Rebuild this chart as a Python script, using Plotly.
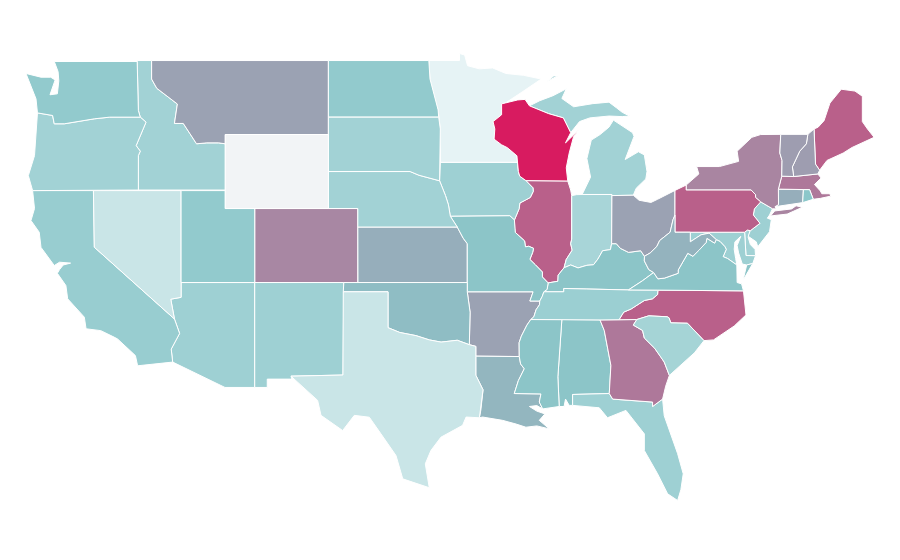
import plotly.graph_objects as go
from plotly.colors import sample_colorscale

# Shared borders (lon, lat)
WI_MN = [(-92.02,46.71),(-92.29,46.66),(-92.29,46.07),(-92.87,45.7),(-92.75,45.3),(-92.8,44.75),(-92.3,44.45),(-91.9,44.29),(-91.25,43.85),(-91.22,43.5)]
WI_IA = [(-91.22,43.5),(-91.15,43.0),(-91.06,42.75),(-90.64,42.51)]
IA_IL = [(-90.64,42.51),(-90.42,42.33),(-90.16,42.12),(-90.14,41.93),(-90.34,41.6),(-90.66,41.46),(-91.05,41.3),(-91.1,40.99),(-91.42,40.38)]
MO_IL = [(-91.42,40.38),(-91.4,39.93),(-91.36,39.71),(-90.73,39.25),(-90.67,38.93),(-90.45,38.96),(-90.12,38.85),(-90.18,38.63),(-90.37,38.25),(-90.0,37.96),(-89.52,37.57),(-89.52,37.3),(-89.13,36.98)]
KY_MO = [(-89.13,36.98),(-89.2,36.63),(-89.42,36.5)]
TN_MO = [(-89.42,36.5),(-89.53,36.25),(-89.7,36.0)]
TN_AR = [(-89.7,36.0),(-89.72,35.8),(-89.95,35.53),(-90.1,35.15),(-90.31,35.0)]
MS_AR = [(-90.31,35.0),(-90.57,34.7),(-90.95,34.1),(-91.1,33.75),(-91.09,33.0)]
MS_LA = [(-91.09,33.0),(-91.0,32.6),(-90.75,32.34),(-91.15,31.7),(-91.43,31.0)]
OH_WV = [(-80.52,40.64),(-80.65,40.4),(-80.85,39.72),(-81.56,39.27),(-81.75,38.95),(-82.2,38.6),(-82.59,38.42)]
OH_KY = [(-82.59,38.42),(-82.85,38.72),(-83.67,38.63),(-84.23,38.85),(-84.5,39.1),(-84.82,39.1)]
IN_KY = [(-84.82,39.1),(-84.9,38.78),(-85.43,38.72),(-85.75,38.27),(-86.05,37.96),(-86.5,37.93),(-87.1,37.79),(-87.6,37.95),(-88.05,37.8)]
IL_KY = [(-88.05,37.8),(-88.45,37.4),(-88.47,37.07),(-89.13,36.98)]
IN_IL = [(-87.53,41.7),(-87.53,39.35),(-87.6,39.1),(-87.5,38.75),(-87.9,38.25),(-88.05,37.8)]
KY_WV = [(-82.59,38.42),(-82.6,38.17),(-82.3,37.7),(-81.97,37.54)]
KY_VA = [(-81.97,37.54),(-82.72,37.1),(-83.68,36.6)]
KY_TN = [(-83.68,36.6),(-85.0,36.62),(-86.5,36.65),(-88.07,36.68),(-88.07,36.5),(-89.42,36.5)]
VA_TN = [(-83.68,36.6),(-81.68,36.59)]
TN_NC = [(-81.68,36.59),(-81.7,36.35),(-82.05,36.12),(-82.6,36.03),(-83.1,35.77),(-83.5,35.57),(-84.0,35.4),(-84.32,34.99)]
VA_NC = [(-81.68,36.59),(-75.87,36.55)]
VA_WV = [(-81.97,37.54),(-81.68,37.2),(-81.23,37.24),(-80.3,37.5),(-80.3,37.68),(-79.95,38.18),(-79.65,38.58),(-79.3,38.42),(-78.87,38.76),(-78.4,39.17),(-78.35,39.39),(-77.83,39.13),(-77.72,39.32)]
VA_MD = [(-77.72,39.32),(-77.46,39.22),(-77.12,38.93),(-77.04,38.79),(-77.25,38.4),(-76.95,38.3),(-76.32,37.95)]
WV_MD = [(-77.72,39.32),(-78.2,39.67),(-78.75,39.58),(-79.48,39.2),(-79.48,39.72)]
NC_SC = [(-78.55,33.86),(-79.67,34.8),(-80.8,34.82),(-80.93,35.1),(-81.05,35.15),(-82.3,35.2),(-83.11,35.0)]
SC_GA = [(-83.11,35.0),(-83.35,34.7),(-82.72,34.41),(-82.6,34.0),(-81.9,33.45),(-81.5,33.0),(-81.25,32.7),(-80.9,31.98)]
TX_LA = [(-94.04,33.02),(-94.04,31.99),(-93.55,31.2),(-93.7,30.1),(-93.8,29.69)]
TX_OK = [(-100.0,36.5),(-100.0,34.56),(-99.2,34.3),(-98.1,34.13),(-97.2,33.9),(-96.4,33.78),(-95.3,33.88),(-94.48,33.64)]
MN_ND = [(-96.56,45.94),(-96.6,46.33),(-96.85,47.0),(-97.15,48.0),(-97.23,49.0)]
MT_ID = [(-116.05,49.0),(-116.05,48.0),(-115.7,47.5),(-114.3,46.65),(-114.5,45.6),(-113.9,45.6),(-113.45,45.05),(-113.0,44.5),(-112.3,44.55),(-111.5,44.55),(-111.05,44.5)]
ID_OR = [(-116.95,42.0),(-116.95,43.86),(-116.82,44.1),(-117.1,44.4),(-116.43,45.67),(-116.82,45.94)]
OR_WA = [(-116.82,45.94),(-118.9,45.94),(-119.94,45.85),(-121.98,45.58),(-122.66,45.58),(-122.77,46.03),(-123.8,46.17)]
NE_IA = [(-96.5,42.5),(-96.1,41.7),(-95.9,41.2),(-95.77,40.58)]
NE_SD = [(-104.05,43.0),(-98.5,43.0),(-97.9,42.8),(-96.5,42.5)]
KS_MO = [(-95.3,40.0),(-94.9,39.4),(-94.62,39.1),(-94.62,37.0)]
CA_AZ = [(-114.5,35.03),(-114.15,34.25),(-114.72,33.4),(-114.62,32.7)]
NV_AZ = [(-114.05,37.0),(-114.05,36.2),(-114.75,36.1),(-114.5,35.03)]
PA_NY = [(-79.76,42.27),(-79.76,42.0),(-75.35,42.0),(-75.05,41.75),(-75.05,41.6),(-74.7,41.36)]
PA_NJ = [(-74.7,41.36),(-75.13,40.98),(-75.2,40.65),(-74.75,40.2),(-75.41,39.8)]
NH_VT = [(-71.5,45.01),(-71.6,44.5),(-72.05,44.1),(-72.55,43.25),(-72.46,42.73)]
NH_ME = [(-71.08,45.3),(-70.98,43.4),(-70.7,43.07)]
NY_VT = [(-73.34,45.01),(-73.4,44.0),(-73.25,43.6),(-73.27,42.75)]
WI_MI = [(-87.6,45.1),(-88.1,45.9),(-89.1,46.13),(-90.4,46.55)]


def rev(part):
    return part[::-1]


def ring(*parts):
    pts = []
    for p in parts:
        pts.extend(p)
    return pts + [pts[0]]


AL = ring([(-88.2,35.0),(-85.61,34.98),(-85.32,34.41),(-84.87,32.52),(-84.98,31.0),(-87.47,30.95),(-87.47,30.36),(-87.7,30.36),(-87.95,30.7),(-88.05,30.3),(-88.38,30.3),(-88.47,31.9)])
AZ = ring(NV_AZ[:1],[(-109.05,37.0),(-109.05,31.33),(-111.07,31.33)],rev(CA_AZ),rev(NV_AZ)[1:-1])
AR = ring([(-94.62,36.5),(-90.15,36.5),(-90.37,36.0)],TN_AR,MS_AR,[(-94.04,33.02),(-94.04,33.55),(-94.48,33.64),(-94.43,35.4)])
CA = ring([(-124.13,41.97),(-120.0,41.97),(-119.94,38.91)],CA_AZ,[(-117.0,32.5),(-117.15,33.05),(-117.75,33.5),(-118.36,33.95),(-118.6,34.05),(-119.5,34.4),(-120.5,34.5),(-120.62,35.13),(-121.75,36.12),(-121.87,36.84),(-122.45,37.5),(-122.3,37.7),(-122.05,37.95),(-121.55,38.05),(-122.3,38.1),(-122.66,37.92),(-123.56,38.9),(-123.68,39.72),(-124.24,40.35),(-124.0,41.0)])
CO = ring([(-109.05,41.0),(-102.05,41.0),(-102.05,37.0),(-109.05,37.0)])
CT = ring([(-73.5,42.05),(-71.8,42.02),(-71.85,41.32),(-73.0,41.2),(-73.73,41.1),(-73.49,41.21)])
DE = ring([(-75.79,39.72),(-75.6,39.84),(-75.41,39.8),(-75.55,39.45),(-75.4,39.05),(-75.08,38.79),(-75.05,38.45),(-75.7,38.46)])
FL = ring([(-87.47,30.95),(-84.98,31.0),(-84.75,30.7),(-82.04,30.54),(-82.04,30.3),(-81.36,30.7),(-81.25,29.8),(-80.34,27.75),(-79.96,26.66),(-80.12,25.8),(-80.34,25.22),(-81.02,25.58),(-81.7,26.66),(-82.6,27.92),(-82.6,28.82),(-83.85,30.09),(-85.1,29.69),(-85.66,30.23),(-87.47,30.36)])
GA = ring([(-85.61,34.98),(-84.32,34.99)],SC_GA,[(-81.15,31.4),(-81.36,30.7),(-82.04,30.3),(-82.04,30.54),(-84.75,30.7),(-84.98,31.0),(-84.87,32.52),(-85.32,34.41)])
ID = ring([(-117.03,49.0)],MT_ID,[(-111.05,42.0)],ID_OR,[(-116.95,46.3)])
IL = ring([(-90.64,42.51),(-87.8,42.49),(-87.6,42.0)],IN_IL,IL_KY,rev(MO_IL),rev(IA_IL))
IN = ring([(-87.53,41.7),(-87.2,41.75),(-86.82,41.76),(-84.8,41.76)],IN_KY,rev(IN_IL))
IA = ring([(-96.45,43.5)],WI_IA,IA_IL,[(-91.73,40.61)],rev(NE_IA))
KS = ring([(-102.05,40.0)],KS_MO,[(-102.04,37.0)])
KY = ring(OH_KY,IN_KY,IL_KY,KY_MO,rev(KY_TN),rev(KY_VA),rev(KY_WV))
LA = ring(MS_LA,[(-89.62,30.98),(-89.73,30.54),(-89.5,30.17),(-89.9,30.35),(-90.4,30.3),(-89.9,30.05),(-89.35,29.9),(-89.73,29.55),(-89.05,29.09),(-89.9,29.25),(-90.64,29.18),(-91.3,29.35),(-92.22,29.55),(-93.58,29.73)],rev(TX_LA))
ME = ring([(-71.08,45.3),(-70.8,45.4),(-70.4,45.75),(-70.0,46.7),(-69.23,47.45),(-68.3,47.35),(-67.8,47.07),(-67.8,45.7),(-67.45,45.3),(-67.0,44.85),(-68.5,44.3),(-69.1,44.0),(-70.2,43.6)],rev(NH_ME))
MD = ring([(-79.48,39.72),(-75.79,39.72),(-75.7,38.46),(-75.05,38.45),(-75.24,38.03),(-75.65,37.95),(-75.95,38.0),(-76.2,38.6),(-76.3,39.0),(-76.05,39.5),(-76.45,39.2),(-76.5,38.8),(-76.4,38.3)],rev(VA_MD),WV_MD)
MA = ring([(-73.5,42.05),(-73.27,42.75),(-72.46,42.73),(-70.82,42.87),(-70.6,42.65),(-71.05,42.3),(-70.65,41.95),(-70.55,41.8),(-70.0,41.8),(-70.1,42.07),(-69.95,41.67),(-70.65,41.55),(-71.13,41.5),(-71.38,42.02),(-71.8,42.02)])
MI_LOWER = ring([(-86.82,41.76),(-84.8,41.76),(-84.8,41.7),(-83.35,41.72),(-83.15,42.1),(-82.5,42.6),(-82.42,43.0),(-82.6,43.9),(-83.0,44.07),(-83.9,43.65),(-83.3,44.9),(-83.4,45.1),(-84.7,45.78),(-85.0,45.4),(-85.6,45.0),(-86.2,44.7),(-86.5,43.7),(-86.25,42.7)])
MI_UPPER = ring(rev(WI_MI),[(-87.0,45.7),(-86.3,45.9),(-85.0,46.0),(-84.1,45.97),(-83.6,46.0),(-84.1,46.2),(-84.5,46.45),(-85.0,46.75),(-86.1,46.67),(-87.4,46.5),(-88.2,46.95),(-87.9,47.47),(-88.8,47.1),(-89.7,46.83)])
MI_ISLE = ring([(-89.2,47.87),(-88.5,48.17),(-88.75,48.17)])
MN = ring([(-97.23,49.0),(-95.15,49.0),(-95.15,49.38),(-94.8,49.3),(-94.6,48.72),(-93.8,48.55),(-92.9,48.6),(-92.0,48.3),(-90.8,48.2),(-89.6,48.0),(-90.9,47.3)],WI_MN,[(-96.45,43.5),(-96.45,45.3)],MN_ND)
MS = ring([(-90.31,35.0),(-88.2,35.0),(-88.47,31.9),(-88.38,30.3),(-89.5,30.17),(-89.73,30.54),(-89.62,30.98)],rev(MS_LA),rev(MS_AR))
MO = ring([(-95.77,40.58),(-91.73,40.61)],MO_IL,KY_MO,TN_MO,[(-90.37,36.0),(-90.15,36.5),(-94.62,36.5)],rev(KS_MO))
MT = ring([(-116.05,49.0),(-104.05,49.0),(-104.05,45.0),(-111.05,45.0)],rev(MT_ID))
NE = ring(NE_SD,NE_IA,[(-95.3,40.0),(-102.05,40.0),(-102.05,41.0),(-104.05,41.0)])
NV = ring([(-120.0,41.97),(-114.05,41.97)],NV_AZ,[(-119.94,38.91)])
NH = ring(NH_VT,[(-70.82,42.87)],rev(NH_ME))
NJ = ring([(-74.7,41.36),(-73.9,40.99),(-74.1,40.65),(-74.25,40.48),(-73.98,40.4),(-74.1,39.75),(-74.9,38.93),(-75.0,39.2),(-75.55,39.5)],rev(PA_NJ))
NM = ring([(-109.05,37.0),(-103.0,37.0),(-103.06,32.0),(-106.59,31.94),(-106.53,31.78),(-108.2,31.78),(-108.2,31.33),(-109.05,31.33)])
NY_MAIN = ring(PA_NY[:1],[(-78.9,42.87),(-79.05,43.27),(-77.5,43.27),(-76.2,43.55),(-76.3,44.1),(-75.3,44.85),(-74.7,45.0)],NY_VT,[(-73.5,42.05),(-73.49,41.21),(-73.73,41.1),(-73.65,40.98),(-73.9,40.99)],rev(PA_NY))
NY_LI = ring([(-74.03,40.6),(-73.75,40.87),(-72.6,40.98),(-72.3,41.15),(-71.87,41.07),(-72.9,40.7)])
NC = ring(VA_NC,[(-75.7,35.25),(-76.5,34.65),(-77.9,33.9)],NC_SC,rev(TN_NC))
ND = ring([(-104.05,49.0)],rev(MN_ND),[(-104.05,45.94)])
OH = ring([(-84.8,41.7),(-83.35,41.72),(-82.96,41.45),(-82.15,41.33),(-81.7,41.5),(-80.52,41.98)],OH_WV,OH_KY)
OK = ring([(-103.0,37.0),(-94.62,37.0),(-94.62,36.5),(-94.43,35.4)],rev(TX_OK),[(-103.04,36.5)])
OR = ring([(-124.13,41.97)],ID_OR,OR_WA,[(-124.0,43.86),(-124.42,42.78)])
PA = ring([(-80.52,39.72),(-80.52,41.98)],PA_NY,PA_NJ,[(-75.6,39.84),(-75.79,39.72)])
RI = ring([(-71.8,42.02),(-71.38,42.02),(-71.13,41.5),(-71.85,41.32)])
SC = ring(NC_SC,SC_GA,[(-79.9,32.7),(-79.2,33.2)])
SD = ring([(-104.05,45.94),(-96.56,45.94),(-96.45,45.3),(-96.45,43.5)],rev(NE_SD))
TN = ring(VA_TN,TN_NC,[(-85.61,34.98),(-88.2,35.0)],rev(TN_AR),rev(TN_MO),rev(KY_TN))
TX = ring([(-106.59,31.94),(-103.06,32.0),(-103.04,36.5)],TX_OK,[(-94.04,33.55)],TX_LA,[(-94.7,29.73),(-94.94,29.28),(-96.41,28.64),(-97.09,27.92),(-97.47,27.2),(-97.2,25.91),(-99.0,26.39),(-99.46,27.65),(-100.48,28.82),(-101.27,29.72),(-102.29,29.82),(-103.08,29.0),(-104.55,29.82),(-104.78,30.63)])
UT = ring([(-114.05,41.97),(-111.05,41.97),(-111.05,41.0),(-109.05,41.0),(-109.05,37.0),(-114.05,37.0)])
VT = ring(NY_VT[:1],NH_VT,rev(NY_VT)[:-1])
VA_MAIN = ring(rev(KY_VA),VA_WV,VA_MD,[(-76.3,37.5),(-76.3,37.0),(-76.0,36.93)],rev(VA_NC),rev(VA_TN))
VA_SHORE = ring([(-75.65,37.95),(-75.24,38.03),(-75.9,37.12)])
WA = ring([(-122.66,48.95),(-117.03,48.95),(-116.95,46.3)],OR_WA,[(-123.9,46.93),(-124.35,47.83),(-124.58,48.3),(-123.56,48.1),(-122.9,48.1),(-122.6,47.95),(-122.95,47.15),(-122.45,47.2),(-122.35,47.9),(-122.4,48.4)])
WV = ring(rev(OH_WV),[(-80.52,39.72)],rev(WV_MD),rev(VA_WV),rev(KY_WV))
WI = ring(WI_MN,WI_IA,[(-87.8,42.49),(-87.9,43.2),(-87.7,44.0),(-87.4,44.9),(-87.05,45.25),(-87.95,44.55)],WI_MI,[(-90.7,46.9),(-91.2,46.87)])
WY = ring([(-111.05,45.0),(-104.05,45.0),(-104.05,41.0),(-111.05,41.0)])

state_names = ["AL","AZ","AR","CA","CO","CT","DE","FL","GA","ID","IL","IN","IA","KS","KY","LA","ME","MD","MA","MI","MN","MS","MO","MT","NE","NV","NH","NJ","NM","NY","NC","ND","OH","OK","OR","PA","RI","SC","SD","TN","TX","UT","VT","VA","WA","WV","WI","WY"]
state_values = [31,24,45,26,56,40,23,24,62,23,72,21,24,40,31,37,72,24,62,23,2,31,31,45,23,11,47,24,24,57,72,28,45,34,23,72,30,22,23,25,11,28,47,31,28,38,100,0]
state_shapes = [[AL],[AZ],[AR],[CA],[CO],[CT],[DE],[FL],[GA],[ID],[IL],[IN],[IA],[KS],[KY],[LA],[ME],[MD],[MA],[MI_LOWER,MI_UPPER,MI_ISLE],[MN],[MS],[MO],[MT],[NE],[NV],[NH],[NJ],[NM],[NY_MAIN,NY_LI],[NC],[ND],[OH],[OK],[OR],[PA],[RI],[SC],[SD],[TN],[TX],[UT],[VT],[VA_MAIN,VA_SHORE],[WA],[WV],[WI],[WY]]
color_stops = [[0,"#f2f4f6"],[0.02,"#e6f3f5"],[0.3,"#8bc7ca"],[1,"#d81b60"]]

fig = go.Figure()
for name, value, rings in zip(state_names, state_values, state_shapes):
    lon, lat = [], []
    for r in rings:
        lon += [p[0] for p in r] + [None]
        lat += [p[1] for p in r] + [None]
    fig.add_trace(go.Scatter(x=lon, y=lat, mode="lines", fill="toself", name=name,
                             fillcolor=sample_colorscale(color_stops, value / 100)[0],
                             line=dict(color="white", width=1), showlegend=False,
                             hovertemplate=f"{name}: {value}<extra></extra>"))

fig.update_xaxes(visible=False, range=[-125.8, -64.7], fixedrange=True)
fig.update_yaxes(visible=False, range=[21.57, 51.84], fixedrange=True)
fig.update_layout(width=900, height=560, margin=dict(l=0, r=0, t=0, b=0), paper_bgcolor="white", plot_bgcolor="white")
fig.write_html("out.html")
